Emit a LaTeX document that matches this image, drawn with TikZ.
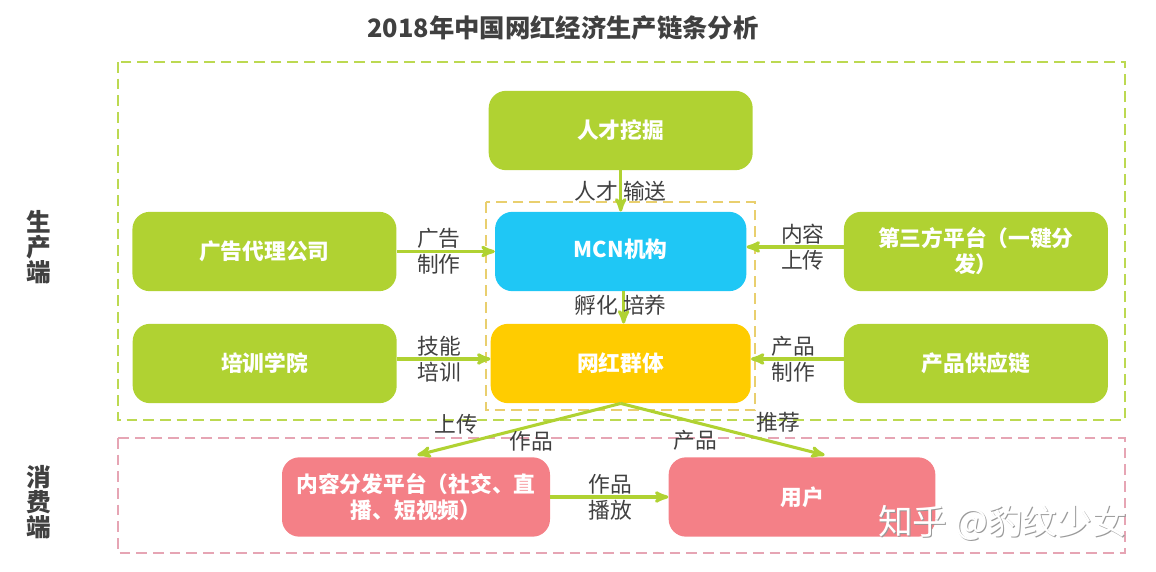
\documentclass[tikz,border=0pt]{standalone}
\usepackage{fontspec}
\setmainfont{Noto Sans CJK SC}
\usetikzlibrary{shapes,arrows,positioning}
\definecolor{leaf}{HTML}{B0D232}
\definecolor{sky}{HTML}{1FC7F5}
\definecolor{amber}{HTML}{FFCC00}
\definecolor{rose}{HTML}{F48087}
\definecolor{ink}{HTML}{404040}
\definecolor{rosedash}{HTML}{E6A5B4}
\definecolor{amberdash}{HTML}{E9CF6E}
\tikzset{
    %Define standard arrow tip
    >=stealth',
    %Define style for boxes
    block/.style={
           rectangle,
           rounded corners=13pt,
           fill=leaf,
           text=white,
           inner sep=0pt,
           minimum width=198pt,
           minimum height=59.5pt,
           align=center,
           font=\fontsize{16.3}{19.5}\selectfont\bfseries},
    % Define style for arrow captions
    caption/.style={
           text=ink,
           inner sep=0pt,
           align=center,
           font=\fontsize{16.3}{19.2}\selectfont},
    % Define style for side headings
    side/.style={
           text=ink,
           inner sep=0pt,
           align=center,
           font=\fontsize{18.5}{18.7}\selectfont\bfseries},
    % Define style for dashed frames
    zone/.style={
           line width=1.1pt,
           dash pattern=on 8pt off 4.5pt},
    % Define arrow style
    arrow/.style={
           ->,
           draw=leaf,
           line width=2.3pt}
}

\begin{document}
\begin{tikzpicture}[x=0.75pt, y=-0.75pt]
    \useasboundingbox (0,0) rectangle (1156,571);
    \node [text=ink, font=\fontsize{19}{23}\selectfont\bfseries] (title) at (563,28) {2018年中国网红经济生产链条分析};
    \node [side] (prodside) at (39,247.5) {生\\产\\端};
    \node [side] (consside) at (39,502) {消\\费\\端};

    % frames go under the boxes
    \draw [zone, draw=leaf!85!white] (118,62) rectangle (1125,420);
    \draw [zone, draw=rosedash] (118,438) rectangle (1125,553);
    \draw [zone, draw=amberdash] (486,202) rectangle (755,410);

    \node [block, fill=sky, minimum width=188.5pt] (mcn) at (620.7,251.5) {\raisebox{4.5pt}{MCN机构}};
    \node [block, above of=mcn, node distance=90.75pt] (talent) {人才挖掘};
    \node [block, fill=amber, minimum width=195pt, below of=mcn, node distance=84pt] (group) {网红群体};
    \node [block, left of=mcn, node distance=267.2pt] (adagency) {广告代理公司};
    \node [block, left of=group, node distance=267pt] (training) {培训学院};
    \node [block, right of=mcn, node distance=266.4pt] (thirdparty) {第三方平台（一键分\\发）};
    \node [block, right of=group, node distance=266.4pt] (supply) {产品供应链};
    \node [block, fill=rose, minimum width=201pt] (content) at (416,497) {内容分发平台（社交、直\\播、短视频）};
    \node [block, fill=rose, minimum width=200pt, right of=content, node distance=289.5pt] (user) {用户};

    \path (talent) edge[arrow] node[caption] {人才 输送} (mcn);
    \path (adagency) edge[arrow] node[caption, pos=.43] {广告\\制作} (mcn);
    \path ([yshift=3.4pt]thirdparty.west) edge[arrow] node[caption, pos=.42] {内容\\上传} ([yshift=3.4pt]mcn.east);
    \path ([xshift=2.2pt]mcn.south) edge[arrow] node[caption, xshift=-2.2pt, yshift=1.5pt] {孵化 培养} ([xshift=2.2pt]group.north);
    \path ([yshift=3.4pt]training.east) edge[arrow] node[caption, pos=.45] {技能\\培训} ([yshift=3.4pt]group.west);
    \path ([yshift=3.4pt]supply.west) edge[arrow] node[caption, pos=.54] {产品\\制作} ([yshift=3.4pt]group.east);
    \path (content) edge[arrow] node[caption, pos=.5, xshift=.5pt] {作品\\播放} (user);
    \draw [arrow] (group.south) -- ([xshift=1pt,yshift=1.5pt]content.north);
    \draw [arrow] (group.south) -- ([xshift=17pt,yshift=1.5pt]user.north);

    \node [caption] (uploadtop) at (456,424) {上传};
    \node [caption] (uploadlow) at (531,441) {作品};
    \node [caption] (recomlow) at (695,440) {产品};
    \node [caption] (recomtop) at (778,422) {推荐};

    % watermark with its shadow
    \node [text=gray!80, anchor=west, inner sep=0pt, font=\fontsize{26}{30}\selectfont] (markshadow) at (879,524) {知乎 @豹纹少女};
    \node [text=white, anchor=west, inner sep=0pt, font=\fontsize{26}{30}\selectfont] (mark) at (878,523) {知乎 @豹纹少女};
\end{tikzpicture}
\end{document}
